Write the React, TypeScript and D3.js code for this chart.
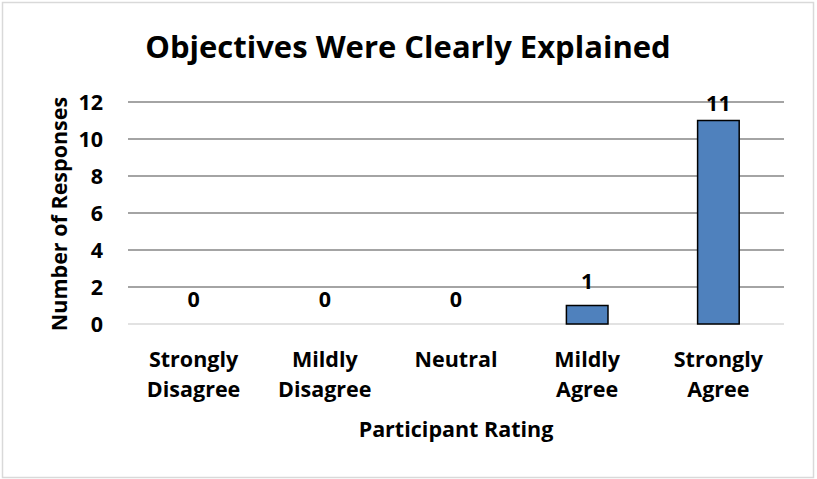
import React from "react";
import * as d3 from "d3";

const categories: string[][] = [
  ["Strongly", "Disagree"],
  ["Mildly", "Disagree"],
  ["Neutral"],
  ["Mildly", "Agree"],
  ["Strongly", "Agree"],
];
const values: number[] = [0, 0, 0, 1, 11];
const yTicks: number[] = [0, 2, 4, 6, 8, 10, 12];
const title = "Objectives Were Clearly Explained";
const xTitle = "Participant Rating";
const yTitle = "Number of Responses";

const W = 817;
const H = 479;
const FONT = "'Open Sans', Lato, sans-serif";
const FS = 21.5;

export default function App() {
  const left = 128, right = 784, top = 102, bottom = 324;
  const x = d3.scaleBand<number>().domain(values.map((_, i) => i)).range([left, right]).paddingInner(0.683).paddingOuter(0.3415);
  const y = d3.scaleLinear().domain([0, 12]).range([bottom, top]);
  const bw = x.bandwidth();
  return (
    <svg width={W} height={H} style={{ position: "absolute", left: 0, top: 0 }}>
      <rect x={0} y={0} width={W} height={H} fill="#fff" />
      <rect x={2.5} y={2.5} width={811} height={475} fill="#fff" stroke="#d9d9d9" strokeWidth={1.5} />
      <text x={408} y={58} textAnchor="middle" fontFamily={FONT} fontWeight="bold" fontSize={31} fill="#000">{title}</text>
      {yTicks.map((t) => (
        <g key={t}>
          <line x1={left} x2={right} y1={y(t)} y2={y(t)} stroke={t === 0 ? "#d9d9d9" : "#868686"} strokeWidth={1.5} />
          <text x={103} y={y(t) + 7.5} textAnchor="end" fontFamily={FONT} fontWeight="bold" fontSize={FS}>{t}</text>
        </g>
      ))}
      {values.map((v, i) => (
        <g key={i}>
          {v > 0 && (
            <rect x={x(i)!} y={y(v)} width={bw} height={y(0) - y(v)} fill="#4F81BD" stroke="#000" strokeWidth={1.5} />
          )}
          <text x={x(i)! + bw / 2} y={Math.max(y(v) - 17, top + 9)} textAnchor="middle" fontFamily={FONT} fontWeight="bold" fontSize={FS}>{v}</text>
          {categories[i].map((line, j) => (
            <text key={j} x={x(i)! + bw / 2} y={367 + j * 30} textAnchor="middle" fontFamily={FONT} fontWeight="bold" fontSize={FS}>{line}</text>
          ))}
        </g>
      ))}
      <text x={456} y={437} textAnchor="middle" fontFamily={FONT} fontWeight="bold" fontSize={FS}>{xTitle}</text>
      <text transform={`translate(67,${(top + bottom) / 2 + 1}) rotate(-90)`} textAnchor="middle" fontFamily={FONT} fontWeight="bold" fontSize={FS}>{yTitle}</text>
    </svg>
  );
}
